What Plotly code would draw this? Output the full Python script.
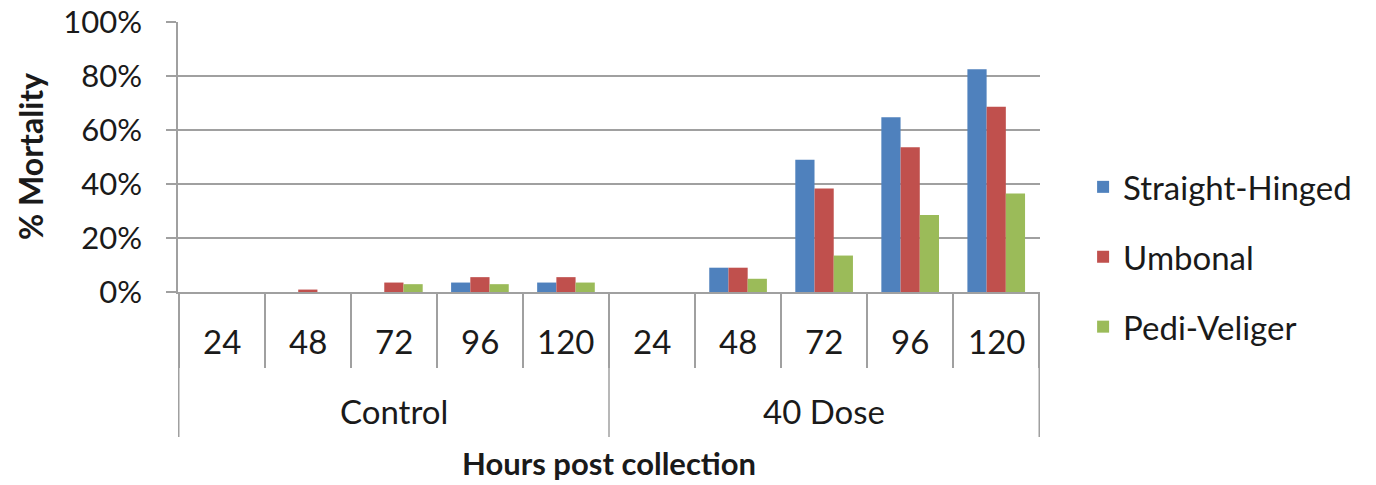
import plotly.graph_objects as go

group_names = ["Control", "40 Dose"]
hour_labels = ["24", "48", "72", "96", "120"]
groups = [g for g in group_names for _ in hour_labels]
hours = hour_labels * 2
series_names = ["Straight-Hinged", "Umbonal", "Pedi-Veliger"]
straight_hinged = [0, 0, 0, 0.035, 0.035, 0, 0.09, 0.49, 0.647, 0.825]
umbonal = [0, 0.009, 0.035, 0.055, 0.055, 0, 0.09, 0.383, 0.536, 0.686]
pedi_veliger = [0, 0, 0.029, 0.029, 0.035, 0, 0.049, 0.135, 0.285, 0.365]
colors = ["#4F81BD", "#C0504D", "#9BBB59"]
y_ticks = [0, 0.2, 0.4, 0.6, 0.8, 1.0]

keys = [f"{g}|{h}" for g, h in zip(groups, hours)]

font = "Lato"
grid = "#A0A0A0"
plot_h = 270  # pixel height of plot area

fig = go.Figure()
for i, (name, vals, c) in enumerate(zip(series_names, [straight_hinged, umbonal, pedi_veliger], colors)):
    fig.add_trace(go.Bar(x=keys, y=vals, name=name, marker_color=c,
                         marker_line_width=0, legendgroup=f"g{i}"))

ann = []
for k, h in zip(keys, hours):
    ann.append(dict(x=k, y=-49 / plot_h, xref="x", yref="paper", text=h,
                    showarrow=False, yanchor="middle", font=dict(size=33)))
n = len(hour_labels)
for gi, g in enumerate(group_names):
    ann.append(dict(x=gi * n + (n - 1) / 2, y=-119 / plot_h, xref="x", yref="paper",
                    text=g, showarrow=False, yanchor="middle", font=dict(size=33)))
ann.append(dict(x=0.5, y=-171 / plot_h, xref="paper", yref="paper",
                text="<b>Hours post collection</b>", showarrow=False,
                yanchor="middle", font=dict(size=31)))
ann.append(dict(x=-148 / 862, y=0.5, xref="paper", yref="paper",
                text="<b>% Mortality</b>", showarrow=False, textangle=-90,
                xanchor="center", yanchor="middle", font=dict(size=32)))

shapes = []
for gi in range(len(group_names) + 1):
    xb = gi * n - 0.5
    shapes.append(dict(type="line", xref="x", yref="paper", x0=xb, x1=xb,
                       y0=0, y1=-145 / plot_h, line=dict(color=grid, width=1.5)))

fig.update_layout(
    width=1376, height=485,
    margin=dict(l=178, r=336, t=22, b=193, autoexpand=False),
    paper_bgcolor="white", plot_bgcolor="white",
    barmode="group", bargap=0.33, bargroupgap=0,
    font=dict(family=font, size=31, color="#1a1a1a"),
    legend=dict(x=1.050, y=0.13, yanchor="middle", xanchor="left",
                font=dict(size=33), tracegroupgap=24, itemwidth=30),
    annotations=ann, shapes=shapes,
)
fig.update_yaxes(range=[0, 1], tickvals=y_ticks, tickformat=".0%",
                 showgrid=True, gridcolor=grid, gridwidth=1.5,
                 showline=True, linecolor=grid, linewidth=1.5,
                 ticks="outside", ticklen=10, tickcolor=grid, tickwidth=1.5,
                 tickfont=dict(size=31), zeroline=False, ticklabelstandoff=18)
fig.update_xaxes(type="category", categoryorder="array", categoryarray=keys,
                 showline=True, linecolor=grid, linewidth=1.5,
                 showticklabels=False, ticks="outside", tickson="boundaries",
                 ticklen=74, tickcolor=grid, tickwidth=1.5)
fig.write_html("out.html", config={"displayModeBar": False},
               post_script="document.body.style.margin='0';document.body.style.overflow='hidden';")
